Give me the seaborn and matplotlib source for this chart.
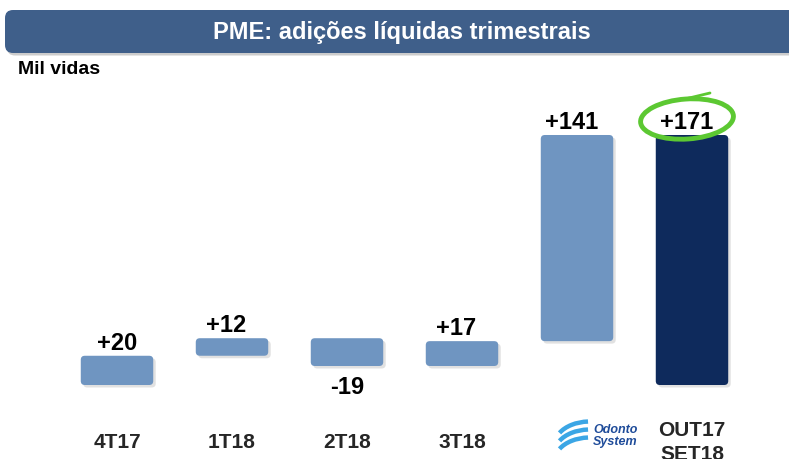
import numpy as np
import pandas as pd
import matplotlib
matplotlib.use('Agg')
import matplotlib.pyplot as plt
import seaborn as sns
from matplotlib.patches import FancyBboxPatch, Ellipse, Arc

# Data (mil vidas)
categories = ['4T17', '1T18', '2T18', '3T18', 'Odonto System', 'OUT17\nSET18']
changes = [20, 12, -19, 17, 141, 171]
value_labels = ['+20', '+12', '-19', '+17', '+141', '+171']
tick_labels = ['4T17', '1T18', '2T18', '3T18', '', 'OUT17\nSET18']
bar_colors = ['#6F95C1', '#6F95C1', '#6F95C1', '#6F95C1', '#6F95C1', '#0E2A5C']

# waterfall: running total for the steps, last bar is the total
bottoms, heights = [], []
run = 0
for i, v in enumerate(changes):
    if i == len(changes) - 1:
        bottoms.append(0)
        heights.append(v)
    else:
        lo, hi = sorted([run, run + v])
        bottoms.append(lo)
        heights.append(hi - lo)
        run += v

df = pd.DataFrame({'cat': categories, 'top': np.array(bottoms) + np.array(heights)})

sns.set_theme(style='white')
plt.rcParams['font.family'] = ['Liberation Sans', 'DejaVu Sans']

fig = plt.figure(figsize=(7.89, 4.59), dpi=100)
ax = fig.add_axes([0, 54 / 459, 1, 345 / 459])

sns.barplot(data=df, x='cat', y='top', hue='cat', palette=bar_colors,
            width=0.63, legend=False, ax=ax, saturation=1)

ax.set_xlim(-117 / 115, (789 - 117) / 115)
px = 1.462  # pixels per unit
ax.set_ylim(-20 / px, 325 / px)

# reposition bars as floating waterfall and give them rounded corners + shadow
rects = list(ax.patches)
for p, b, h in zip(rects, bottoms, heights):
    x0, w = p.get_x(), p.get_width()
    fc = p.get_facecolor()
    p.set_visible(False)
    shadow = FancyBboxPatch((x0 + 2.5 / 115, b - 2.5 / px), w, h,
                            boxstyle='round,pad=0,rounding_size=0.035',
                            mutation_aspect=(1 / px) * 115,
                            fc='#C4C4C4', ec='none', alpha=0.5, zorder=1)
    box = FancyBboxPatch((x0, b), w, h,
                         boxstyle='round,pad=0,rounding_size=0.035',
                         mutation_aspect=(1 / px) * 115,
                         fc=fc, ec='none', zorder=2)
    ax.add_patch(shadow)
    ax.add_patch(box)

for i, (v, lab) in enumerate(zip(changes, value_labels)):
    b, h = bottoms[i], heights[i]
    if v < 0:
        ax.text(i, b - 10 / px, lab, ha='center', va='top', fontsize=17,
                fontweight='bold', color='black')
    else:
        dx = 0 if i == 0 else -0.05
        ax.text(i + dx, b + h + 1 / px, lab, ha='center', va='bottom', fontsize=17,
                fontweight='bold', color='black')

ax.set_xticks(range(len(categories)))
ax.set_xticklabels(tick_labels, fontsize=15, fontweight='bold', va='center',
                   linespacing=1.3)
ax.tick_params(axis='x', length=0, pad=27)
ax.set_yticks([])
ax.set_xlabel('')
ax.set_ylabel('')
sns.despine(ax=ax, left=True, bottom=True)
ax.patch.set_alpha(0)

# title banner
tr = fig.dpi_scale_trans
fig.patches.append(FancyBboxPatch((0.07, 4.59 - 0.555), 8.0, 0.43,
                                  boxstyle='round,pad=0,rounding_size=0.08',
                                  fc='#9A9A9A', ec='none', alpha=0.5,
                                  transform=tr, figure=fig, zorder=0))
fig.patches.append(FancyBboxPatch((0.05, 4.59 - 0.53), 8.0, 0.43,
                                  boxstyle='round,pad=0,rounding_size=0.08',
                                  fc='#3F5F8A', ec='none',
                                  transform=tr, figure=fig, zorder=1))
fig.text(402 / 789, 1 - 32 / 459, 'PME: adições líquidas trimestrais',
         ha='center', va='center', color='white', fontsize=17, fontweight='bold')
fig.text(18 / 789, 1 - 70 / 459, 'Mil vidas', ha='left', va='center',
         fontsize=14, fontweight='bold', color='black')

# highlight around the total
fig.patches.append(Ellipse((6.87, 4.59 - 1.19), 0.93, 0.40, angle=4,
                           fill=False, ec='#5CC832', lw=3.5,
                           transform=tr, figure=fig, zorder=5))
fig.lines.append(plt.Line2D([6.85, 7.10], [4.59 - 0.99, 4.59 - 0.93],
                            color='#5CC832', lw=2, transform=tr, figure=fig))

# Odonto System logo (approximation)
for yy in [4.59 - 4.24, 4.59 - 4.32, 4.59 - 4.40]:
    fig.patches.append(Arc((5.90, yy - 0.20), 0.70, 0.45, theta1=95, theta2=160,
                           ec='#3BA6E5', lw=3.2, transform=tr, figure=fig))
fig.text(593 / 789, 1 - 436 / 459, 'Odonto\nSystem', ha='left', va='center',
         fontsize=9, fontweight='bold', style='italic', color='#1F4C9A',
         linespacing=0.9)

fig.savefig('out.png', dpi=100)
